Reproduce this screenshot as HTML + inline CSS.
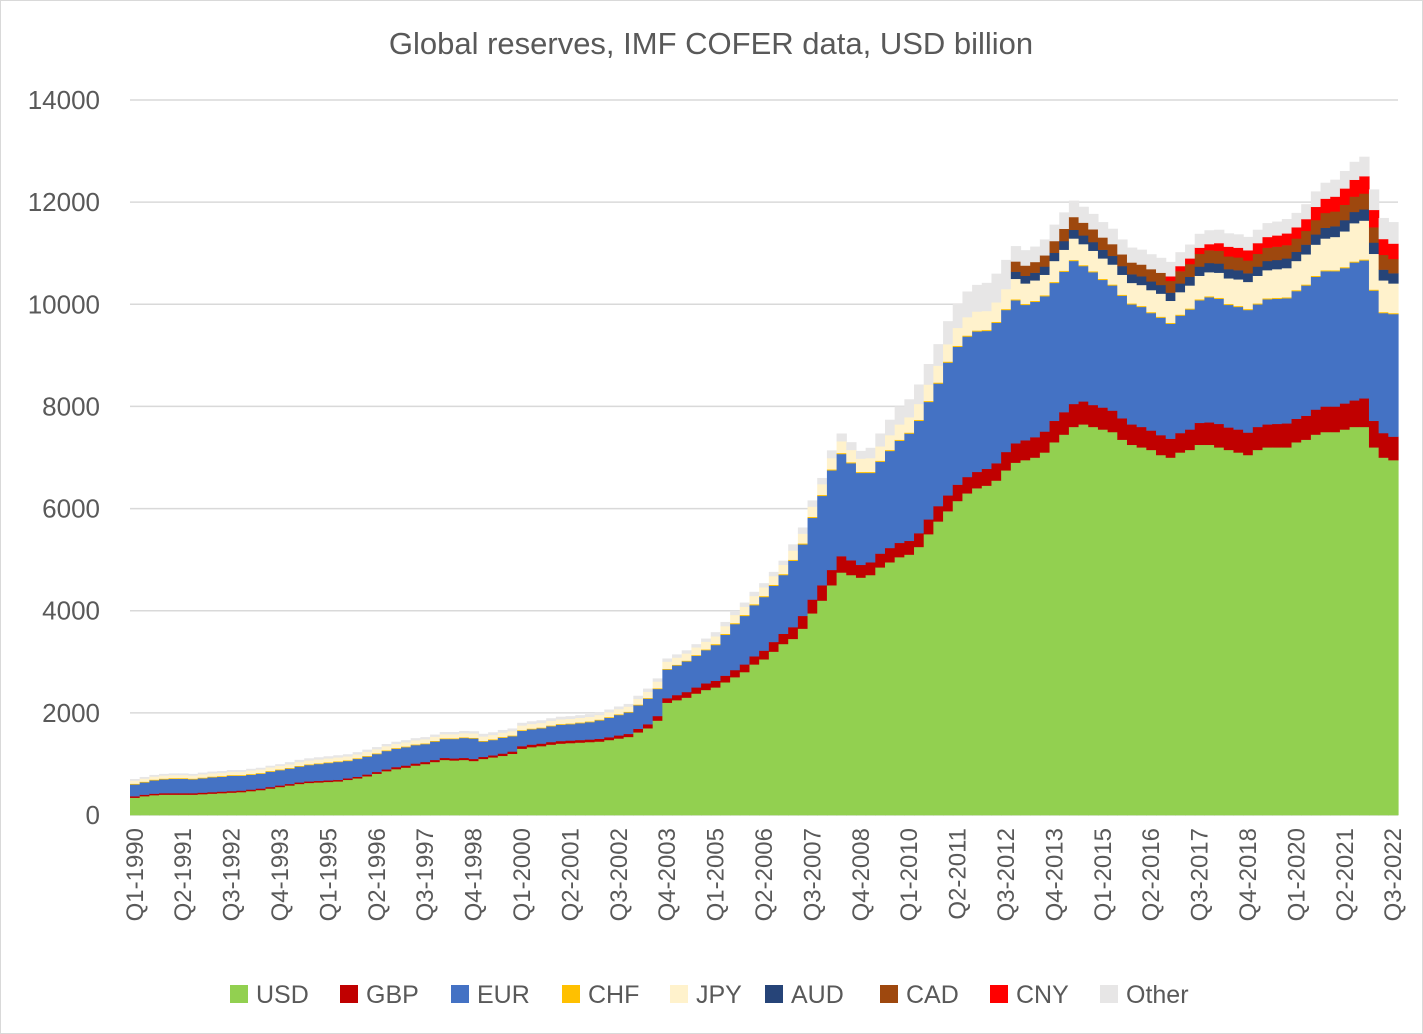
<!DOCTYPE html>
<html><head><meta charset="utf-8"><style>
body{margin:0;background:#fff;}
svg{display:block;font-family:"Liberation Sans",sans-serif;}
</style></head><body>
<svg id="chart" width="1423" height="1034">
<rect x="0.5" y="0.5" width="1422" height="1033" fill="#fff" stroke="#d9d9d9"/>
<text x="711" y="54" text-anchor="middle" font-size="31" fill="#595959">Global reserves, IMF COFER data, USD billion</text>
<g id="grid"></g><g id="bars"></g><g id="yax"></g><g id="xax"></g><g id="legend"></g>
</svg>
<script>
const years = [];for(let y=1990;y<=2022;y++)years.push(y);
const yTicks = [0,2000,4000,6000,8000,10000,12000,14000];
const seriesNames = ["USD","GBP","EUR","CHF","JPY","AUD","CAD","CNY","Other"];
const seriesColors = ["#92d050","#c00000","#4472c4","#ffc000","#fff2cc","#264478","#9e480e","#ff0000","#e7e6e6"];
const usd = [340,370,390,400, 400,400,400,410, 420,430,440,450, 470,490,520,550, 580,610,630,640, 650,660,690,720, 760,810,860,900, 930,970,1000,1040, 1080,1070,1080,1060, 1100,1130,1160,1200, 1300,1330,1350,1380, 1400,1410,1420,1430, 1440,1470,1500,1530, 1620,1700,1850,2200, 2250,2300,2380,2450, 2500,2600,2700,2800, 2950,3050,3200,3350, 3450,3650,3950,4200, 4500,4750,4700,4650, 4700,4850,4950,5050, 5100,5250,5500,5750, 5950,6150,6300,6400, 6450,6550,6750,6900, 6950,7000,7100,7300, 7450,7600,7650,7600, 7550,7500,7350,7250, 7200,7150,7050,7000, 7100,7150,7250,7250, 7200,7150,7100,7050, 7150,7200,7200,7200, 7300,7350,7450,7500, 7500,7550,7600,7600, 7200,7000,6950];
const gbp = [30,30,30,30, 30,30,30,30, 30,30,30,30, 30,30,30,30, 30,30,30,30, 30,30,30,30, 35,35,35,40, 40,40,40,40, 40,40,40,40, 40,40,45,45, 50,50,50,50, 50,50,50,50, 55,55,60,60, 70,80,90,90, 100,110,120,130, 130,130,140,150, 160,170,190,200, 230,250,270,300, 300,320,290,250, 250,270,280,280, 270,270,290,300, 310,320,320,320, 330,340,360,380, 390,400,410,420, 440,450,450,430, 430,420,420,400, 400,380,390,370, 380,400,430,440, 460,440,450,440, 450,450,460,470, 460,470,490,500, 500,510,520,560, 520,480,460];
const eur = [230,240,260,270, 280,280,270,280, 290,290,300,290, 290,290,300,300, 300,310,320,330, 340,350,340,350, 350,350,360,360, 360,360,350,360, 370,380,390,400, 300,300,310,300, 300,300,300,310, 320,320,330,340, 360,380,400,420, 460,500,530,560, 580,600,620,650, 700,800,900,950, 1000,1050,1100,1150, 1300,1400,1600,1750, 1950,2000,1900,1800, 1750,1800,1900,2000, 2100,2200,2300,2400, 2600,2700,2750,2750, 2700,2750,2780,2800, 2650,2650,2650,2700, 2750,2800,2650,2600, 2500,2450,2400,2350, 2350,2300,2300,2250, 2300,2350,2400,2450, 2450,2400,2400,2400, 2400,2450,2450,2450, 2500,2550,2600,2650, 2650,2650,2700,2700, 2550,2350,2400];
const chf = [15,15,15,15, 15,15,15,15, 15,15,15,15, 15,15,15,15, 15,15,15,15, 15,15,15,15, 15,15,15,15, 15,15,15,15, 15,15,15,15, 15,15,15,15, 15,15,15,15, 15,15,15,15, 15,15,15,15, 15,15,15,15, 15,15,15,15, 20,20,20,20, 20,20,20,20, 20,20,20,20, 20,20,20,20, 20,20,20,20, 20,20,20,20, 20,20,20,20, 20,20,20,20, 20,20,20,20, 20,20,20,20, 20,20,20,20, 20,20,20,20, 20,20,20,20, 20,20,20,20, 20,20,20,20, 20,20,20,20, 20,20,20,20, 20,20,20];
const jpy = [60,60,60,60, 60,60,60,65, 65,65,65,65, 70,70,70,70, 70,75,75,75, 75,75,75,75, 80,80,80,80, 80,80,80,80, 80,80,80,85, 85,85,85,85, 90,90,90,90, 90,90,90,90, 90,95,100,100, 110,120,130,140, 140,140,150,150, 150,150,160,160, 160,170,170,180, 180,190,200,210, 220,230,240,260, 270,280,290,300, 300,310,320,330, 340,350,360,370, 370,380,390,400, 400,400,400,410, 410,420,410,400, 400,390,390,400, 410,430,450,430, 440,450,460,470, 490,500,520,530, 540,550,560,570, 570,590,610,620, 650,700,750,760, 700,620,580];
// AUD and CAD reported from Q4-2012 (index 91), CNY from Q4-2016 (index 107); zero before
const audReported = [140, 150,150,160,160, 170,170,170,170, 170,170,170,170, 170,170,170,160, 170,170,180,180, 180,180,180,170, 180,180,180,190, 180,190,200,210, 210,220,220,220, 220,210,200];
const cadReported = [200, 200,210,220,230, 240,250,250,250, 240,230,230,230, 230,240,240,230, 240,250,250,250, 250,250,250,250, 250,260,260,260, 260,270,280,290, 290,300,300,310, 300,290,280];
const cnyReported = [90, 100,110,120,120, 150,190,190,200, 210,210,220,230, 220,230,260,280, 290,320,330,340, 340,310,300];
const aud = new Array(usd.length-audReported.length).fill(0).concat(audReported);
const cad = new Array(usd.length-cadReported.length).fill(0).concat(cadReported);
const cny = new Array(usd.length-cnyReported.length).fill(0).concat(cnyReported);
const other = [30,30,30,30, 30,30,30,30, 30,30,30,30, 30,30,30,30, 40,40,40,40, 40,40,40,40, 40,40,40,40, 40,40,40,40, 40,40,40,40, 50,50,50,50, 50,50,50,50, 50,50,50,50, 50,50,50,50, 60,60,60,60, 60,60,60,60, 80,80,80,80, 80,80,80,80, 120,120,120,120, 150,150,150,150, 200,250,300,350, 350,380,400,420, 450,480,500,520, 550,560,570,300, 300,300,310,320, 320,320,310,300, 300,300,290,290, 290,290,290,280, 270,270,270,270, 260,260,260,260, 260,270,270,280, 280,290,300,310, 330,340,350,380, 400,410,420];
const series = [usd,gbp,eur,chf,jpy,aud,cad,cny,other];
const NS="http://www.w3.org/2000/svg";
const X0=130,X1=1398,Y0=815,Y1=100,N=usd.length,bw=(X1-X0)/N;
const xs=i=>X0+i*bw;
const ys=v=>Y0-(v/14000)*(Y0-Y1);
function mk(tag,attrs,parent){const e=document.createElementNS(NS,tag);for(const k in attrs)e.setAttribute(k,attrs[k]);parent.appendChild(e);return e;}
const grid=document.getElementById('grid'),yax=document.getElementById('yax');
yTicks.forEach(t=>{
  if(t>0){const l=mk('line',{x1:X0,x2:X1,y1:ys(t),y2:ys(t),stroke:'#d9d9d9','stroke-width':1.5},grid);
  
  }
  const tx=mk('text',{x:100,y:ys(t)+9,'text-anchor':'end','font-size':26,fill:'#595959'},yax);tx.textContent=t;
  
  
});
const bars=document.getElementById('bars');
for(let i=0;i<N;i++){
  let base=0;
  series.forEach((s,k)=>{
    const v=s[i];if(!v)return;
    const r=mk('rect',{x:xs(i),y:ys(base+v),width:bw+0.6,height:ys(base)-ys(base+v)+0.3,fill:seriesColors[k]},bars);
    
    
    base+=v;
  });
}
mk('line',{x1:X0,x2:X1,y1:Y0,y2:Y0,stroke:'#d9d9d9','stroke-width':1.5},grid);
const xax=document.getElementById('xax');
const qn=['Q1','Q2','Q3','Q4'];
for(let i=0;i<N;i+=5){
  const lbl=qn[i%4]+'-'+years[Math.floor(i/4)];
  const cx=xs(i)+bw/2+8,cy=828;
  const t=mk('text',{x:cx,y:cy,'text-anchor':'end','font-size':24,fill:'#595959',transform:`rotate(-90 ${cx} ${cy})`},xax);
  t.textContent=lbl;
  
  
}
const lg=document.getElementById('legend');
const lx=[230,340,451,562,670,765,880,990,1100];
seriesNames.forEach((n,k)=>{
  const g=mk('g',{},lg);
  
  
  mk('rect',{x:lx[k],y:985,width:18,height:18,fill:seriesColors[k]},g);
  const t=mk('text',{x:lx[k]+26,y:1003,'font-size':25,fill:'#595959'},g);t.textContent=n;
});
</script>
</body></html>
